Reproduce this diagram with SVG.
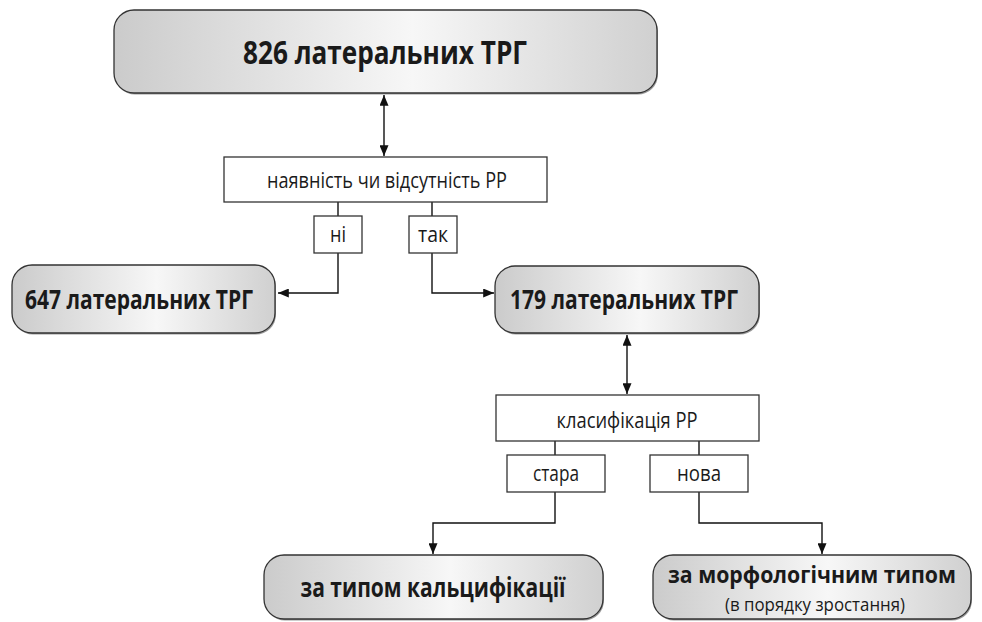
<svg xmlns="http://www.w3.org/2000/svg" width="982" height="622" viewBox="0 0 982 622">
<defs>
<linearGradient id="g" x1="0" y1="0" x2="1" y2="0">
<stop offset="0" stop-color="#cbcbcb"/>
<stop offset="0.55" stop-color="#f7f7f7"/>
<stop offset="1" stop-color="#d0d0d0"/>
</linearGradient>
<marker id="ah" viewBox="0 0 12 10" refX="12" refY="5" markerWidth="12" markerHeight="9" markerUnits="userSpaceOnUse" orient="auto-start-reverse">
<path d="M0,0 L12,5 L0,10 Z" fill="#111"/>
</marker>
</defs>
<style>
.rb{fill:url(#g);stroke:#333;stroke-width:1.3}
.sh{fill:#9a9a9a;stroke:none}
.bx{fill:#fff;stroke:#333;stroke-width:1.3}
.tb{font-family:"Open Sans","Noto Sans",sans-serif;font-weight:700;fill:#1a1a1a;text-anchor:middle}
.tr{font-family:"Open Sans","Noto Sans",sans-serif;font-weight:400;fill:#1a1a1a;text-anchor:middle}
.ln{fill:none;stroke:#111;stroke-width:1.4}
</style>
<g id="connectors">
<line class="ln" x1="384" y1="95" x2="384" y2="156" marker-start="url(#ah)" marker-end="url(#ah)"/>
<line class="ln" x1="338" y1="202" x2="338" y2="216"/>
<polyline class="ln" points="338,253 338,293 278,293" marker-end="url(#ah)"/>
<line class="ln" x1="432" y1="202" x2="432" y2="216"/>
<polyline class="ln" points="432,253 432,293 494,293" marker-end="url(#ah)"/>
<line class="ln" x1="627" y1="335" x2="627" y2="394" marker-start="url(#ah)" marker-end="url(#ah)"/>
<line class="ln" x1="555" y1="441" x2="555" y2="455"/>
<polyline class="ln" points="555,492 555,523 433,523 433,554" marker-end="url(#ah)"/>
<line class="ln" x1="699" y1="441" x2="699" y2="455"/>
<polyline class="ln" points="699,492 699,523 822,523 822,554" marker-end="url(#ah)"/>
</g>
<g id="n826">
<rect class="sh" x="115" y="11.5" width="543" height="83" rx="20"/>
<rect class="rb" x="114" y="10" width="543" height="83" rx="20"/>
<text class="tb" x="385" y="64" font-size="33" textLength="284" lengthAdjust="spacingAndGlyphs">826 латеральних ТРГ</text>
</g>
<g id="nPresence">
<rect class="bx" x="224" y="157" width="323" height="45"/>
<text class="tr" x="387" y="188" font-size="22" textLength="240" lengthAdjust="spacingAndGlyphs">наявність чи відсутність РР</text>
</g>
<g id="nNo">
<rect class="bx" x="314" y="216" width="48" height="37"/>
<text class="tr" x="338" y="242" font-size="22" textLength="16" lengthAdjust="spacingAndGlyphs">ні</text>
</g>
<g id="nYes">
<rect class="bx" x="409" y="216" width="48" height="37"/>
<text class="tr" x="433" y="242" font-size="22" textLength="30" lengthAdjust="spacingAndGlyphs">так</text>
</g>
<g id="n647">
<rect class="sh" x="13" y="266.5" width="263" height="68" rx="20"/>
<rect class="rb" x="12" y="265" width="263" height="68" rx="20"/>
<text class="tb" x="139" y="309" font-size="27" textLength="228" lengthAdjust="spacingAndGlyphs">647 латеральних ТРГ</text>
</g>
<g id="n179">
<rect class="sh" x="496" y="267.5" width="264" height="67" rx="20"/>
<rect class="rb" x="495" y="266" width="264" height="67" rx="20"/>
<text class="tb" x="624" y="309" font-size="27" textLength="228" lengthAdjust="spacingAndGlyphs">179 латеральних ТРГ</text>
</g>
<g id="nClass">
<rect class="bx" x="496" y="395" width="263" height="46"/>
<text class="tr" x="627" y="428" font-size="22" textLength="141" lengthAdjust="spacingAndGlyphs">класифікація  РР</text>
</g>
<g id="nOld">
<rect class="bx" x="507" y="455" width="98" height="37"/>
<text class="tr" x="556" y="481" font-size="22" textLength="46" lengthAdjust="spacingAndGlyphs">стара</text>
</g>
<g id="nNew">
<rect class="bx" x="650" y="455" width="98" height="37"/>
<text class="tr" x="699" y="481" font-size="22" textLength="44" lengthAdjust="spacingAndGlyphs">нова</text>
</g>
<g id="nCalc">
<rect class="sh" x="265" y="556.5" width="339" height="64" rx="20"/>
<rect class="rb" x="264" y="555" width="339" height="64" rx="20"/>
<text class="tb" x="433" y="597" font-size="26" textLength="265" lengthAdjust="spacingAndGlyphs">за типом кальцифікації</text>
</g>
<g id="nMorph">
<rect class="sh" x="654" y="556.5" width="318" height="64" rx="20"/>
<rect class="rb" x="653" y="555" width="318" height="64" rx="20"/>
<text class="tb" x="812" y="583" font-size="24" textLength="288" lengthAdjust="spacingAndGlyphs">за морфологічним типом</text>
<text class="tr" x="815" y="611" font-size="19" textLength="180" lengthAdjust="spacingAndGlyphs">(в порядку зростання)</text>
</g>
</svg>
